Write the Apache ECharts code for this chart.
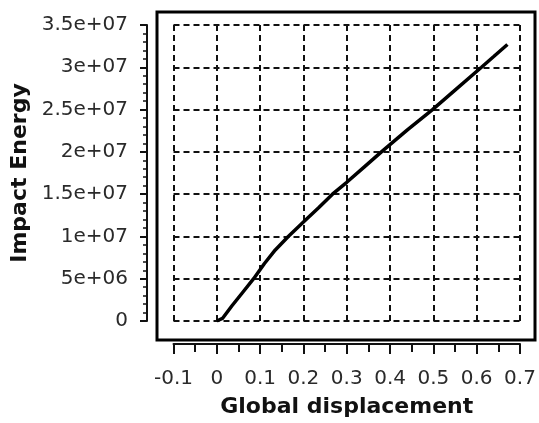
<!DOCTYPE html>
<html>
<head>
<meta charset="utf-8">
<script src="https://cdn.jsdelivr.net/npm/echarts@6/dist/echarts.min.js"></script>
<style>
  html, body { margin: 0; padding: 0; background: #fff; }
  #chart { width: 539px; height: 423px; }
</style>
</head>
<body>
<div id="chart"></div>
<script>
// Impact energy against global displacement
const displacement = [0, 0.013, 0.035, 0.06, 0.085, 0.11, 0.135, 0.165, 0.20, 0.235,
  0.267, 0.30, 0.34, 0.38, 0.44, 0.498, 0.55, 0.611, 0.64, 0.671];
const impactEnergy = [0, 0.3e6, 1.8e6, 3.4e6, 5.0e6, 6.8e6, 8.4e6, 10.0e6, 11.7e6, 13.4e6,
  15.0e6, 16.4e6, 18.2e6, 20.0e6, 22.6e6, 25.0e6, 27.3e6, 30.0e6, 31.3e6, 32.7e6];

const xTickLabels = ['-0.1', '0', '0.1', '0.2', '0.3', '0.4', '0.5', '0.6', '0.7'];
const yTickLabels = ['0', '5e+06', '1e+07', '1.5e+07', '2e+07', '2.5e+07', '3e+07', '3.5e+07'];

const xMin = -0.1, xMax = 0.7, xStep = 0.1;
const yMin = 0, yMax = 3.5e7, yStep = 5e6;

const points = displacement.map((x, i) => [x, impactEnergy[i]]);

const chart = echarts.init(document.getElementById('chart'), null, { renderer: 'canvas' });

const font = 'DejaVu Sans';
const dash = { type: [6, 4], color: '#111', width: 2 };

chart.setOption({
  animation: false,
  backgroundColor: '#fff',
  grid: [
    { left: 173.5, right: 19, top: 25, bottom: 97 },
    { left: 157, right: 4, top: 12, bottom: 83, show: true, borderColor: '#000', borderWidth: 3, backgroundColor: 'transparent' }
  ],
  xAxis: [
    {
      gridIndex: 0,
      type: 'value',
      min: xMin, max: xMax, interval: xStep,
      offset: 23,
      name: 'Global displacement',
      nameLocation: 'middle',
      nameGap: 52,
      nameTextStyle: { fontFamily: font, fontWeight: 'bold', fontSize: 22, color: '#111' },
      axisLine: { show: true, onZero: false, lineStyle: { color: '#111', width: 2 } },
      axisTick: { show: true, inside: false, length: 10, lineStyle: { color: '#111', width: 2 } },
      minorTick: { show: true, splitNumber: 2, length: 8, lineStyle: { color: '#111', width: 2 } },
      axisLabel: {
        fontFamily: font, fontSize: 20, color: '#2a2a2a', margin: 25,
        formatter: (v) => xTickLabels[Math.round((v - xMin) / xStep)]
      },
      splitLine: { show: true, lineStyle: dash }
    },
    { gridIndex: 1, type: 'value', show: false }
  ],
  yAxis: [
    {
      gridIndex: 0,
      type: 'value',
      min: yMin, max: yMax, interval: yStep,
      offset: 26.5,
      name: 'Impact Energy',
      nameLocation: 'middle',
      nameGap: 104,
      nameRotate: 90,
      nameTextStyle: { fontFamily: font, fontWeight: 'bold', fontSize: 22, color: '#111' },
      axisLine: { show: true, onZero: false, lineStyle: { color: '#111', width: 2 } },
      axisTick: { show: true, inside: false, length: 7, lineStyle: { color: '#111', width: 2 } },
      minorTick: { show: true, splitNumber: 5, length: 4, lineStyle: { color: '#111', width: 1.5 } },
      axisLabel: {
        fontFamily: font, fontSize: 20, color: '#2a2a2a', margin: 19,
        formatter: (v) => yTickLabels[Math.round((v - yMin) / yStep)]
      },
      splitLine: { show: true, lineStyle: dash }
    },
    { gridIndex: 1, type: 'value', show: false }
  ],
  series: [
    {
      type: 'line',
      xAxisIndex: 0,
      yAxisIndex: 0,
      data: points,
      showSymbol: false,
      smooth: false,
      lineStyle: { color: '#000', width: 3.5 },
      z: 5
    }
  ]
});
</script>
</body>
</html>
